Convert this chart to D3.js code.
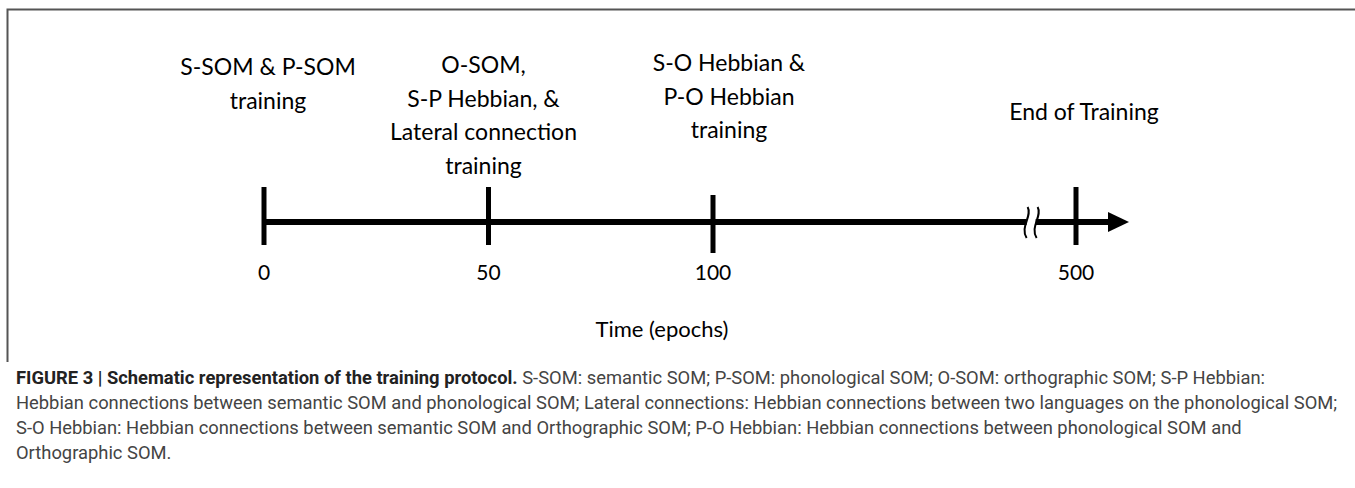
<!DOCTYPE html>
<html>
<head>
<meta charset="utf-8">
<script src="https://cdn.jsdelivr.net/npm/d3@7"></script>
<style>
  body { margin: 0; background: #fff; }
  svg { display: block; }
</style>
</head>
<body>
<svg id="chart" width="1355" height="488"></svg>
<script>
// timeline stops (epochs) and what starts there
var stops = [0, 50, 100, 500];
var stopLabels = ['0', '50', '100', '500'];
var phaseText = [
	['S-SOM & P-SOM', 'training'],
	['O-SOM,', 'S-P Hebbian, &', 'Lateral connection', 'training'],
	['S-O Hebbian &', 'P-O Hebbian', 'training'],
	['End of Training']
];
var breakAt = 450;
var axisTitle = 'Time (epochs)';

var captionBold = 'FIGURE 3 | Schematic representation of the training protocol.';
var captionLines = [
	' S-SOM: semantic SOM; P-SOM: phonological SOM; O-SOM: orthographic SOM; S-P Hebbian:',
	'Hebbian connections between semantic SOM and phonological SOM; Lateral connections: Hebbian connections between two languages on the phonological SOM;',
	'S-O Hebbian: Hebbian connections between semantic SOM and Orthographic SOM; P-O Hebbian: Hebbian connections between phonological SOM and',
	'Orthographic SOM.'
];

var svg = d3.select('#chart');
var diagramFont = 'Lato, "Open Sans", sans-serif';
var axisY = 222;

// frame round the diagram
svg.append('path')
	.attr('d', 'M7.5,362 V9.5 H1355')
	.attr('fill', 'none')
	.attr('stroke', '#555')
	.attr('stroke-width', 2);

// broken axis: linear up to 100, squeezed after that
var x = d3.scaleLinear()
	.domain([0, 100, 500])
	.range([264, 713, 1076]);

var g = svg.append('g');
var xEnd = x(500) + 34;
g.append('line')
	.attr('x1', x(0)).attr('x2', xEnd)
	.attr('y1', axisY).attr('y2', axisY)
	.attr('stroke', '#000')
	.attr('stroke-width', 6);
g.append('path')
	.attr('d', 'M' + (xEnd - 2) + ',' + (axisY - 10) + ' L' + (xEnd + 19) + ',' + axisY + ' L' + (xEnd - 2) + ',' + (axisY + 10) + 'Z')
	.attr('fill', '#000');

// break symbol
var bx = x(breakAt);
g.append('rect')
	.attr('x', bx - 4).attr('y', axisY - 5)
	.attr('width', 9).attr('height', 10)
	.attr('fill', '#fff');
[-5, 5].forEach(function(off){
	var cx = bx + off, top = axisY - 15;
	g.append('path')
		.attr('d', 'M' + (cx + 2) + ',' + top +
			' C' + (cx + 7) + ',' + (top + 9) + ' ' + (cx - 6) + ',' + (top + 20) + ' ' + (cx + 1) + ',' + (top + 31))
		.attr('fill', 'none')
		.attr('stroke', '#000')
		.attr('stroke-width', 2);
});

// ticks
var nudge = function(d){ return d === 100 ? 8 : 0; };
g.selectAll('line.stop')
	.data(stops)
	.enter()
	.append('line')
	.attr('class', 'stop')
	.attr('x1', function(d){ return x(d); })
	.attr('x2', function(d){ return x(d); })
	.attr('y1', function(d){ return 187 + nudge(d); })
	.attr('y2', function(d){ return 245 + nudge(d); })
	.attr('stroke', '#000')
	.attr('stroke-width', 5);

g.selectAll('text.stopLabel')
	.data(stops)
	.enter()
	.append('text')
	.attr('class', 'stopLabel')
	.attr('x', function(d){ return x(d); })
	.attr('y', 280)
	.attr('text-anchor', 'middle')
	.style('font-family', diagramFont)
	.style('font-size', '21px')
	.text(function(d, i){ return stopLabels[i]; });

g.append('text')
	.attr('x', (x(0) + x(500)) / 2 - 8)
	.attr('y', 337)
	.attr('text-anchor', 'middle')
	.style('font-family', diagramFont)
	.style('font-size', '22px')
	.text(axisTitle);

// phase labels above the ticks
var labelTop = [75, 73, 71, 120];
var labelDx = [4, -5, 16, 8];
stops.forEach(function(d, i){
	var t = g.append('text')
		.attr('text-anchor', 'middle')
		.style('font-family', diagramFont)
		.style('font-size', '23px');
	phaseText[i].forEach(function(line, j){
		t.append('tspan')
			.attr('x', x(d) + labelDx[i])
			.attr('y', labelTop[i] + j * 33.5)
			.text(line);
	});
});

// caption below the frame
var capFont = 'Roboto, "Liberation Sans", sans-serif';
var cap = svg.append('g');
var capY = [384, 409, 434, 459];
var first = cap.append('text')
	.attr('x', 16)
	.attr('y', capY[0])
	.style('font-family', capFont);
first.append('tspan')
	.style('font-weight', 'bold')
	.attr('fill', '#222')
	.text(captionBold);
first.append('tspan')
	.attr('fill', '#444')
	.text(captionLines[0]);
captionLines.slice(1).forEach(function(line, i){
	cap.append('text')
		.attr('x', 16)
		.attr('y', capY[i + 1])
		.attr('fill', '#444')
		.style('font-family', capFont)
		.text(line);
});
// size the caption so the longest line runs to the right edge like the original
cap.selectAll('text').style('font-size', '15px');
var widest = d3.max(cap.selectAll('text').nodes(), function(n){ return n.getComputedTextLength(); });
cap.selectAll('text').style('font-size', (15 * 1322 / widest).toFixed(2) + 'px');
</script>
</body>
</html>
